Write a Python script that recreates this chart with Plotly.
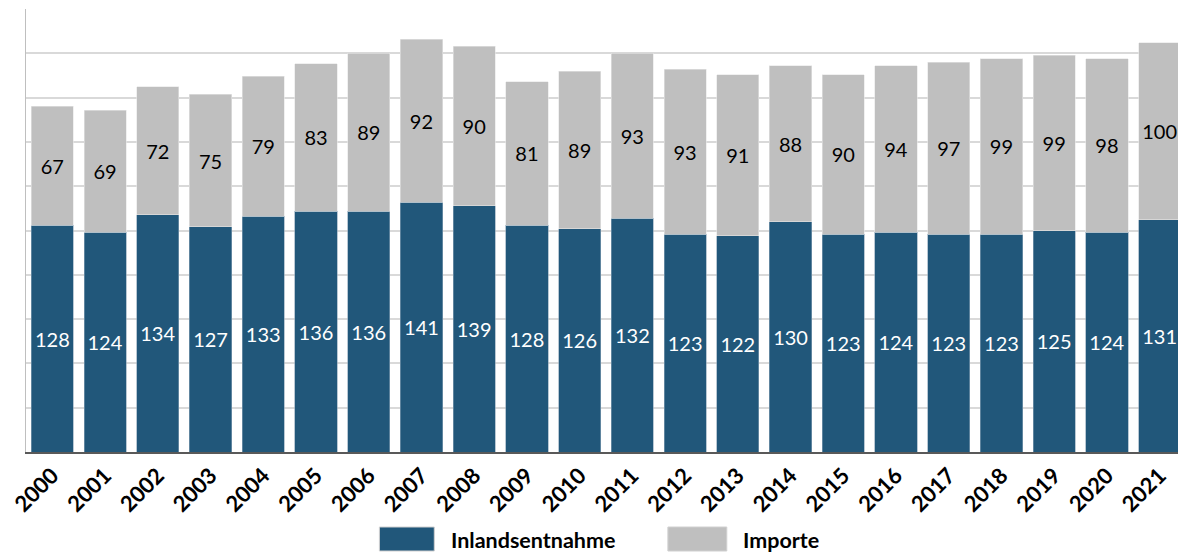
import plotly.graph_objects as go

years = [str(y) for y in range(2000, 2022)]
inlandsentnahme = [128, 124, 134, 127, 133, 136, 136, 141, 139, 128, 126,
                   132, 123, 122, 130, 123, 124, 123, 123, 125, 124, 131]
importe = [67, 69, 72, 75, 79, 83, 89, 92, 90, 81, 89,
           93, 93, 91, 88, 90, 94, 97, 99, 99, 98, 100]

BLUE = "#21577A"
GREY = "#BFBFBF"
FONT = "Lato, 'Open Sans', sans-serif"

# plot area as it should appear on the page (pixels)
PX_L, PX_R, PX_T, PX_B = 24, 1186, 9, 452


def paper_x(px):
    return (px - PX_L) / (PX_R - PX_L)


def paper_y(py):
    return (PX_B - py) / (PX_B - PX_T)


fig = go.Figure()
fig.add_trace(go.Bar(
    x=years, y=inlandsentnahme, name="Inlandsentnahme",
    marker=dict(color=BLUE, line=dict(color="#8aa3b8", width=0.6)),
    text=inlandsentnahme, textposition="inside", insidetextanchor="middle",
    textangle=0, textfont=dict(color="white", size=20, family=FONT),
))
fig.add_trace(go.Bar(
    x=years, y=importe, name="Importe",
    marker=dict(color=GREY, line=dict(color="#e6e6e6", width=0.6)),
    text=importe, textposition="inside", insidetextanchor="middle",
    textangle=0, textfont=dict(color="black", size=20, family=FONT),
))

# the page body adds an 8px offset, margins compensate for it
fig.update_layout(
    barmode="stack",
    bargap=0.2,
    width=1186, height=553,
    margin=dict(l=PX_L - 8, r=8, t=PX_T - 8, b=553 - (PX_B - 8)),
    plot_bgcolor="white",
    paper_bgcolor="white",
    showlegend=False,
    font=dict(family=FONT, color="black"),
    xaxis=dict(
        tickangle=-45,
        tickfont=dict(size=22, family=FONT, weight="bold"),
        showline=True, linecolor="#595959", linewidth=2,
        ticks="", showgrid=False,
    ),
    yaxis=dict(
        range=[0, 250], dtick=25, showticklabels=False,
        showgrid=True, gridcolor="#d9d9d9", gridwidth=1.5,
        showline=True, linecolor="#bfbfbf", linewidth=1,
        zeroline=False,
    ),
)

# legend drawn at the bottom with large swatches
legend_items = [("Inlandsentnahme", BLUE, 378, 433, 448),
                ("Importe", GREY, 667, 726, 740)]
for label, color, x0, x1, tx in legend_items:
    fig.add_shape(type="rect", xref="paper", yref="paper",
                  x0=paper_x(x0), x1=paper_x(x1),
                  y0=paper_y(551), y1=paper_y(527),
                  fillcolor=color, line=dict(color="#d0d0d0", width=1))
    fig.add_annotation(text="<b>" + label + "</b>", xref="paper", yref="paper",
                       x=paper_x(tx), y=paper_y(540),
                       xanchor="left", yanchor="middle", showarrow=False,
                       font=dict(size=21.5, color="black", family=FONT))

fig.write_html("out.html")
